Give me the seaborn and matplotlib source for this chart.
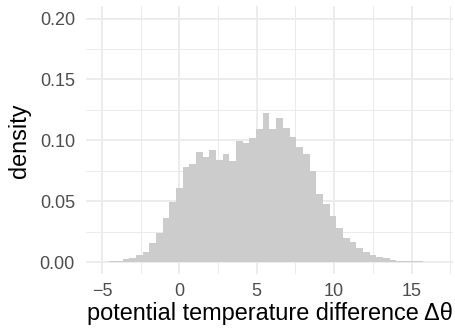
import numpy as np
import pandas as pd
import seaborn as sns
import matplotlib.pyplot as plt
from matplotlib.ticker import MultipleLocator, FormatStrFormatter

# Histogram of potential temperature difference (50 bins), density per bin
bin_start = -4.95
bin_end = 16.6
n_bins = 50
density = [
    0.0003, 0.0005, 0.0008, 0.0022, 0.0033, 0.0058, 0.0080, 0.0156, 0.0236, 0.0360,
    0.0490, 0.0605, 0.0778, 0.0804, 0.0906, 0.0867, 0.0918, 0.0835, 0.0886, 0.0827,
    0.0992, 0.0975, 0.1016, 0.1092, 0.1222, 0.1092, 0.1180, 0.1098, 0.1025, 0.0942,
    0.0886, 0.0748, 0.0556, 0.0474, 0.0380, 0.0277, 0.0195, 0.0167, 0.0112, 0.0080,
    0.0055, 0.0044, 0.0030, 0.0019, 0.0012, 0.0009, 0.0007, 0.0005, 0.0003, 0.0002,
]
x_ticks = [-5, 0, 5, 10, 15]
y_ticks = [0.00, 0.05, 0.10, 0.15, 0.20]

edges = np.linspace(bin_start, bin_end, n_bins + 1)
centers = (edges[:-1] + edges[1:]) / 2
df = pd.DataFrame({"dtheta": centers, "density": density})

sns.set_theme(style="white")
plt.rcParams["font.family"] = ["Liberation Sans", "DejaVu Sans"]

fig = plt.figure(figsize=(4.55, 3.3), dpi=100)
ax = fig.add_axes([0.189, 0.169, 0.9956 - 0.189, 0.9806 - 0.169])

sns.histplot(data=df, x="dtheta", weights="density", bins=n_bins,
             binrange=(bin_start, bin_end), stat="count",
             element="step", fill=True, color="#CCCCCC", alpha=1, linewidth=0, ax=ax)

ax.set_xlim(-6.03, 17.68)
ax.set_ylim(-0.01, 0.21)
ax.set_xticks(x_ticks)
ax.set_yticks(y_ticks)
ax.yaxis.set_major_formatter(FormatStrFormatter("%.2f"))
ax.xaxis.set_minor_locator(MultipleLocator(2.5))
ax.yaxis.set_minor_locator(MultipleLocator(0.025))

ax.set_axisbelow(True)
ax.grid(which="major", color="#EBEBEB", linewidth=1.3)
ax.grid(which="minor", color="#EBEBEB", linewidth=0.7)
for s in ax.spines.values():
    s.set_visible(False)

ax.tick_params(which="both", length=0)
ax.tick_params(axis="x", labelsize=13, labelcolor="#4D4D4D", pad=6)
ax.tick_params(axis="y", labelsize=13, labelcolor="#4D4D4D", pad=8)

ax.set_xlabel("potential temperature difference \u0394\u03b8", fontsize=16.9, color="black", labelpad=2)
ax.set_ylabel("density", fontsize=16.9, color="black", labelpad=6)

fig.savefig("out.png", dpi=100)
